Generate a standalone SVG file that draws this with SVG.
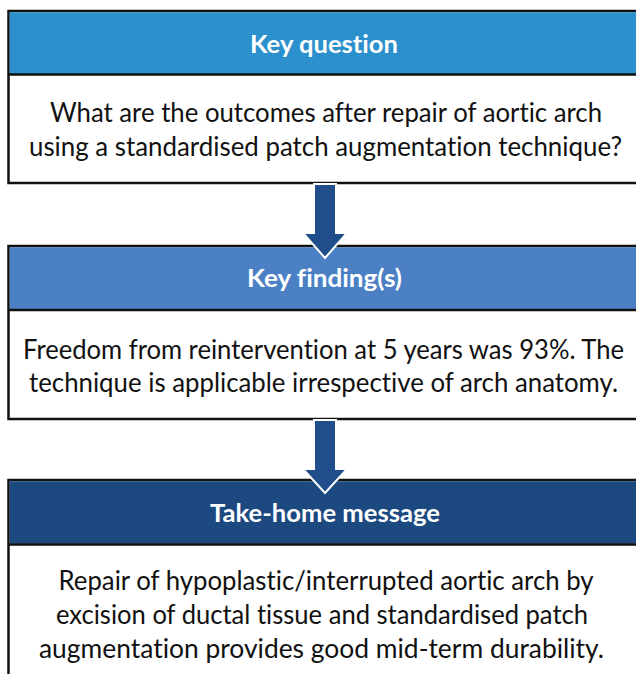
<svg xmlns="http://www.w3.org/2000/svg" width="636" height="674" viewBox="0 0 636 674">
  <style>
    text { font-variant-ligatures: none; font-feature-settings: "liga" 0; }
    .frame { fill: #ffffff; stroke: #111111; stroke-width: 2.5; }
    .rule { stroke: #111111; stroke-width: 2.5; }
    .head { font-family: Lato, "Open Sans", "Liberation Sans", sans-serif; font-weight: 700; font-size: 25px; fill: #ffffff; text-anchor: middle; }
    .body { font-family: Lato, "Open Sans", "Liberation Sans", sans-serif; font-size: 26px; fill: #111111; text-anchor: middle; }
    .arrow { fill: #1f4e8a; stroke: #ffffff; stroke-width: 2; stroke-linejoin: miter; }
  </style>

  <rect width="636" height="674" fill="#ffffff"/>

  <!-- Key question -->
  <g id="key-question">
    <rect class="frame" x="8.5" y="11" width="640" height="172"/>
    <rect x="9.75" y="12.25" width="640" height="62" fill="#2b90cb"/>
    <line class="rule" x1="8.5" y1="74.5" x2="648" y2="74.5"/>
    <text class="head" x="324" y="53" textLength="148" lengthAdjust="spacingAndGlyphs">Key question</text>
    <text class="body" x="326" y="122" textLength="552" lengthAdjust="spacingAndGlyphs">What are the outcomes after repair of aortic arch</text>
    <text class="body" x="325.5" y="156" textLength="593" lengthAdjust="spacingAndGlyphs">using a standardised patch augmentation technique?</text>
  </g>

  <!-- Key finding(s) -->
  <g id="key-findings">
    <rect class="frame" x="8.5" y="246" width="640" height="173"/>
    <rect x="9.75" y="247.25" width="640" height="62.5" fill="#4b81c4"/>
    <line class="rule" x1="8.5" y1="310" x2="648" y2="310"/>
    <text class="head" x="324.5" y="287" textLength="155" lengthAdjust="spacingAndGlyphs">Key finding(s)</text>
    <text class="body" x="323.5" y="359" textLength="601" lengthAdjust="spacingAndGlyphs">Freedom from reintervention at 5 years was 93%. The</text>
    <text class="body" x="323.5" y="392" textLength="589" lengthAdjust="spacingAndGlyphs">technique is applicable irrespective of arch anatomy.</text>
  </g>

  <!-- Take-home message -->
  <g id="take-home">
    <rect class="frame" x="8.5" y="480" width="640" height="220"/>
    <rect x="9.75" y="481.25" width="640" height="62.5" fill="#1c4a80"/>
    <line class="rule" x1="8.5" y1="544.5" x2="648" y2="544.5"/>
    <text class="head" x="325" y="522" textLength="230" lengthAdjust="spacingAndGlyphs">Take-home message</text>
    <text class="body" x="326" y="590" textLength="535" lengthAdjust="spacingAndGlyphs">Repair of hypoplastic/interrupted aortic arch by</text>
    <text class="body" x="322" y="624" textLength="532" lengthAdjust="spacingAndGlyphs">excision of ductal tissue and standardised patch</text>
    <text class="body" x="321.5" y="658" textLength="565" lengthAdjust="spacingAndGlyphs">augmentation provides good mid-term durability.</text>
  </g>

  <!-- Connectors: block arrows between the boxes -->
  <g id="connectors">
    <path class="arrow" d="M314,184 L336,184 L336,233 L347,233 L325,258 L303,233 L314,233 Z"/>
    <path class="arrow" d="M314,420 L336,420 L336,469 L347,469 L325,493 L303,469 L314,469 Z"/>
  </g>
</svg>
